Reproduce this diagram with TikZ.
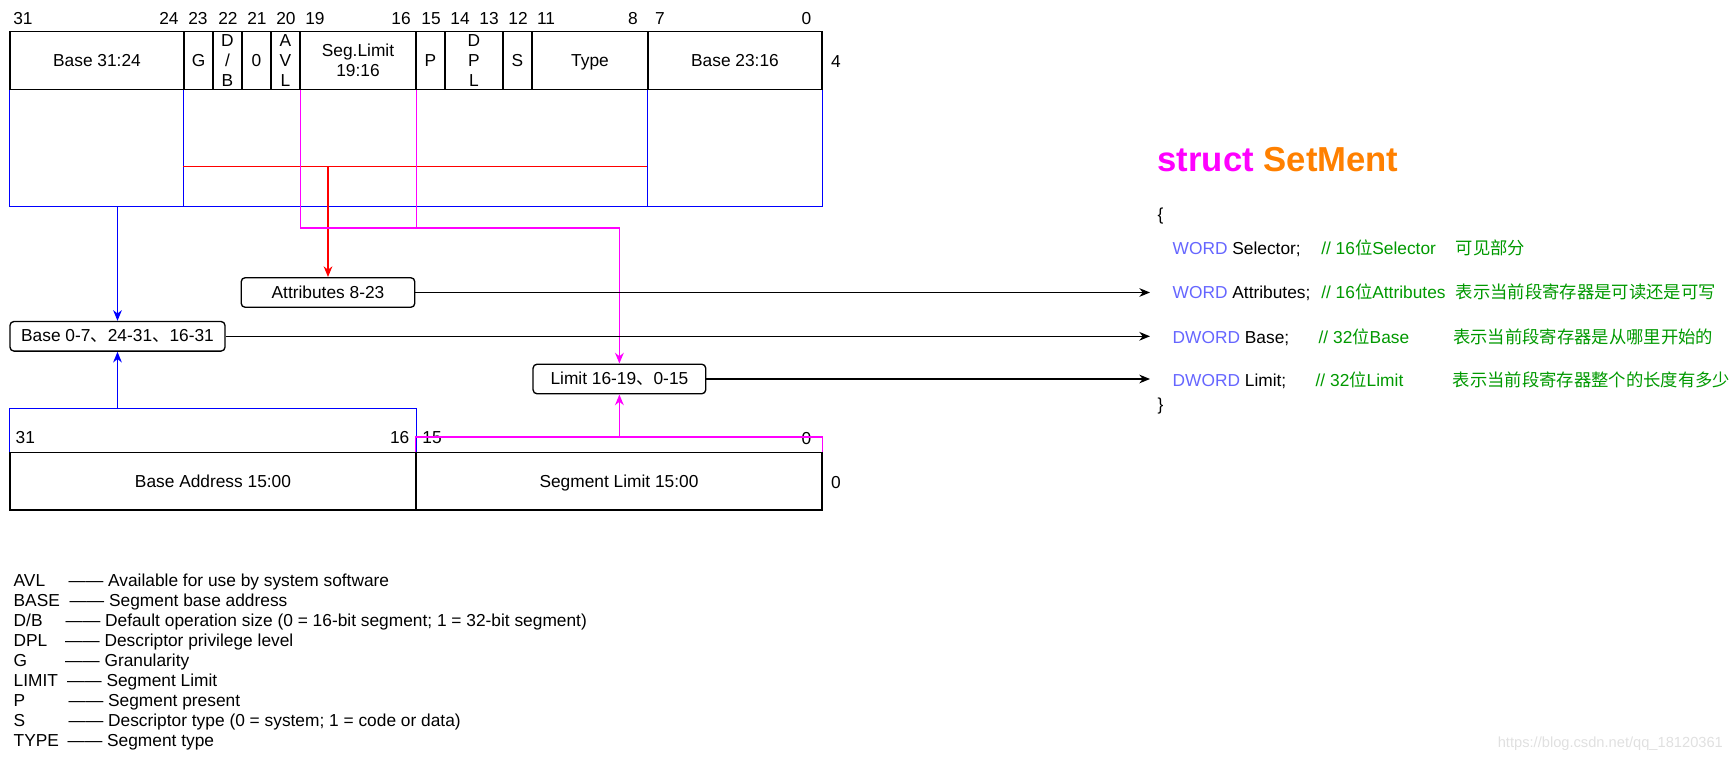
\documentclass[tikz,border=0pt]{standalone}
\usepackage{fontspec}
\usepackage{xcolor}
\setmainfont{Liberation Sans}
\newfontfamily\cjk{Noto Sans CJK SC}
\usetikzlibrary{arrows.meta}

\definecolor{wordblue}{HTML}{6666FF}
\definecolor{notegreen}{HTML}{009900}
\definecolor{titleorange}{HTML}{FF8000}
\definecolor{pinkline}{HTML}{FF00FF}
\definecolor{blueline}{HTML}{0000FF}
\definecolor{redline}{HTML}{FF0000}

\begin{document}
\begin{tikzpicture}[x=0.75pt, y=-0.75pt, line width=1pt, font=\fontsize{13}{15}\selectfont,
	cell/.style={draw, line width=1pt, inner sep=0pt, minimum height=43.2pt, align=center},
	field/.style={draw, line width=1pt, rounded corners=3pt, inner sep=0pt, minimum height=22.2pt},
	tip/.style={-{Stealth[length=8pt, width=6.5pt, inset=2.5pt]}, line width=1.2pt},
	txt/.style={anchor=base west, inner sep=0pt},
	note/.style={anchor=base west, inner sep=0pt, text=notegreen}]
		\useasboundingbox (0,0) rectangle (1736,763);
		
		\node (n31) at (23,18.3) {31};
		\node (n24) at (169,18.3) {24};
		\node (n23) at (198,18.3) {23};
		\node (n22) at (228,18.3) {22};
		\node (n21) at (257,18.3) {21};
		\node (n20) at (286,18.3) {20};
		\node (n19) at (315,18.3) {19};
		\node (n16) at (401,18.3) {16};
		\node (n15) at (431,18.3) {15};
		\node (n14) at (460,18.3) {14};
		\node (n13) at (489,18.3) {13};
		\node (n12) at (518,18.3) {12};
		\node (n11) at (546,18.3) {11};
		\node (n8) at (633,18.3) {8};
		\node (n7) at (660,18.3) {7};
		\node (n0) at (806.5,18.3) {0};
		
		\node[cell, minimum width=130.5pt] (base3124) at (97,60.5) {Base 31:24};
		\node[cell, minimum width=21.75pt] (g) at (198.5,60.5) {G};
		\node[cell, minimum width=21.75pt] (db) at (227.5,60.5) {D\\/\\B};
		\node[cell, minimum width=21.75pt] (zero) at (256.5,60.5) {0};
		\node[cell, minimum width=21.75pt] (avl) at (285.5,60.5) {A\\V\\L};
		\node[cell, minimum width=87pt] (seglim) at (358,60.5) {Seg.Limit\\19:16};
		\node[cell, minimum width=21.75pt] (p) at (430.5,60.5) {P};
		\node[cell, minimum width=43.5pt] (dpl) at (474,60.5) {D\\P\\L};
		\node[cell, minimum width=21.75pt] (s) at (517.5,60.5) {S};
		\node[cell, minimum width=87pt, text depth=0pt] (type) at (590,60.5) {Type};
		\node[cell, minimum width=130.5pt] (base2316) at (735,60.5) {Base 23:16};
		\node (w4) at (836,61.7) {4};
		
		\node[field, minimum width=130.2pt] (attr) at (328,292.5) {Attributes 8-23};
		\node[field, minimum width=161.3pt] (base) at (117.5,336.3) {Base 0-7{\cjk 、}24-31{\cjk 、}16-31};
		\node[field, minimum width=129.5pt] (limit) at (619.4,379) {Limit 16-19{\cjk 、}0-15};
		
		\node[cell, minimum width=304.5pt, minimum height=43.3pt, text depth=0pt] (baddr) at (213,481.2) {Base Address 15:00};
		\node[cell, minimum width=304.5pt, minimum height=43.3pt, text depth=0pt] (slim) at (619,481.2) {Segment Limit 15:00};
		\node (w0) at (836,482.7) {0};
		\node[txt] (l31) at (15,443.5) {31};
		\node[txt, anchor=base east] (l16) at (410,443.5) {16};
		\node[txt] (l15) at (421.7,443.5) {15};
		\node (l0) at (806.5,438.3) {0};
		
		\draw[blueline] (base3124.south west) -- ++(0,116.4) coordinate (bl) -- (bl -| base2316.south east) -- (base2316.south east);
		\draw[blueline] (g.south west) -- (g.south west |- bl);
		\draw[blueline] (base2316.south west) -- (base2316.south west |- bl);
		\draw[tip, blueline] (bl -| base) -- (base);
		
		\draw[redline] (g.south west) ++(0,76.7) coordinate (rl) -- (rl -| base2316.south west);
		\draw[tip, redline] (rl -| attr) -- (attr);
		
		\draw[pinkline] (seglim.south east) -- ++(0,138);
		\draw[tip, pinkline] (avl.south east) -- ++(0,138) -| (limit);
		
		\draw[blueline] (baddr.north west) -- ++(0,-43.3) coordinate (bu) -- (bu -| baddr.north east) -- (baddr.north east);
		\draw[tip, blueline] (bu -| base) -- (base);
		\draw[pinkline] (slim.north west) -- ++(0,-14.6) coordinate (mu) -- (mu -| slim.north east) -- (slim.north east);
		\draw[tip, pinkline] (mu -| limit) -- (limit);
		
		\coordinate (tipA) at (1150,292.5);
		\coordinate (tipB) at (1150,336.3);
		\coordinate (tipC) at (1150,379);
		\draw[tip, line width=1pt] (attr) -- (tipA);
		\draw[tip, line width=1pt] (base) -- (tipB);
		\draw[tip, line width=1pt] (limit) -- (tipC);
		
		\node[txt, font=\fontsize{26}{30}\selectfont\bfseries] (title) at (1157,171.7) {\textcolor{pinkline}{struct} \textcolor{titleorange}{SetMent}};
		\node[txt] (open) at (1157,221) {\{};
		\node[txt] (close) at (1157,410) {\}};
		
		\node[txt] (selDecl) at (1172,254.3) {\textcolor{wordblue}{WORD} Selector;};
		\node[note] (selNote) at (1320.6,254.3) {// 16{\cjk 位}Selector};
		\node[note, font=\fontsize{13}{15}\cjk] (selCn) at (1455,254.3) {可见部分};
		\node[txt] (attrDecl) at (1172,298.3) {\textcolor{wordblue}{WORD} Attributes;};
		\node[note] (attrNote) at (1320.6,298.3) {// 16{\cjk 位}Attributes};
		\node[note, font=\fontsize{13}{15}\cjk] (attrCn) at (1455,298.3) {表示当前段寄存器是可读还是可写};
		\node[txt] (baseDecl) at (1172,343.3) {\textcolor{wordblue}{DWORD} Base;};
		\node[note] (baseNote) at (1318,343.3) {// 32{\cjk 位}Base};
		\node[note, font=\fontsize{13}{15}\cjk] (baseCn) at (1452.5,343.3) {表示当前段寄存器是从哪里开始的};
		\node[txt] (limDecl) at (1172,386) {\textcolor{wordblue}{DWORD} Limit;};
		\node[note] (limNote) at (1315,386) {// 32{\cjk 位}Limit};
		\node[note, font=\fontsize{13}{15}\cjk] (limCn) at (1452,386) {表示当前段寄存器整个的长度有多少};
		
		\node[txt] (kAVL) at (13,586.7) {AVL};
		\node[txt] (dAVL) at (68,586.7) {—— Available for use by system software};
		\node[txt] (kBASE) at (13,606.7) {BASE};
		\node[txt] (dBASE) at (69,606.7) {—— Segment base address};
		\node[txt] (kDB) at (13,626.7) {D/B};
		\node[txt] (dDB) at (65,626.7) {—— Default operation size (0 = 16-bit segment; 1 = 32-bit segment)};
		\node[txt] (kDPL) at (13,646.7) {DPL};
		\node[txt] (dDPL) at (64.4,646.7) {—— Descriptor privilege level};
		\node[txt] (kG) at (13,666.7) {G};
		\node[txt] (dG) at (64.4,666.7) {—— Granularity};
		\node[txt] (kLIMIT) at (13,686.7) {LIMIT};
		\node[txt] (dLIMIT) at (66.4,686.7) {—— Segment Limit};
		\node[txt] (kP) at (13,706.7) {P};
		\node[txt] (dP) at (68,706.7) {—— Segment present};
		\node[txt] (kS) at (13,726.7) {S};
		\node[txt] (dS) at (68,726.7) {—— Descriptor type (0 = system; 1 = code or data)};
		\node[txt] (kTYPE) at (13,746.7) {TYPE};
		\node[txt] (dTYPE) at (67,746.7) {—— Segment type};
		
		\node[anchor=east, text=black!12, font=\fontsize{11}{13}\selectfont] (mark) at (1728,744) {https://blog.csdn.net/qq\_18120361};
	\end{tikzpicture}
\end{document}
